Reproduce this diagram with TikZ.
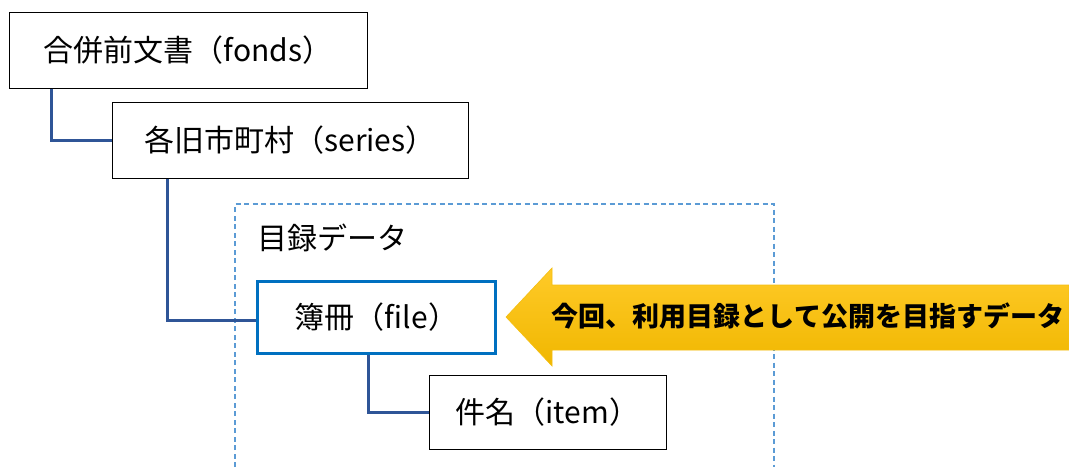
\documentclass[tikz,border=0pt]{standalone}
\usepackage{fontspec}
\setmainfont{Noto Sans CJK JP}
\usetikzlibrary{calc}
\definecolor{connblue}{HTML}{2F5597}
\definecolor{fileblue}{HTML}{0070C0}
\definecolor{dashblue}{HTML}{5B9BD5}
\definecolor{goldtop}{HTML}{FFCA28}
\definecolor{goldbot}{HTML}{F0B700}
\definecolor{goldline}{HTML}{F4BE12}
\tikzset{
  box/.style={draw=black, line width=1pt, fill=white, inner sep=0pt, font=\fontsize{30}{34}\selectfont},
  filebox/.style={box, draw=fileblue, line width=3pt},
  conn/.style={draw=connblue, line width=3pt},
  region/.style={draw=dashblue, line width=2pt, dash pattern=on 5pt off 3.5pt},
  goalarrow/.style={top color=goldtop, bottom color=goldbot, draw=goldline, line width=0.6pt},
}
\begin{document}
\begin{tikzpicture}[x=1pt,y=-1pt]
\useasboundingbox (0,0) rectangle (1069,467);
% dashed region (open at bottom)
\draw[region] (235,467) -- (235,204) -- (774,204) -- (774,467);
\node[anchor=west, inner sep=0pt, font=\fontsize{30}{34}\selectfont] (cat) at (257,238) {目録データ};
% boxes
\node[box, minimum width=358pt, minimum height=76pt] (fonds) at (188,50) {合併前文書（fonds）};
\node[box, minimum width=356pt, minimum height=76pt] (series) at (290,140) {各旧市町村（series）};
\node[filebox, minimum width=238pt, minimum height=72pt] (file) at (376.5,317.5) {簿冊（file）};
\node[box, minimum width=237pt, minimum height=74pt] (item) at (547.5,412) {件名（item）};
% connectors
\draw[conn] ([xshift=43pt]fonds.south west) |- (series.west);
\draw[conn] ([xshift=56pt]series.south west) |- ([yshift=-2.5pt]file.west);
\draw[conn] ([xshift=112pt]file.south west) |- (item.west);
% goal arrow
\path[goalarrow] (506,317) -- (552,268) -- (552,285) -- (1069,285) -- (1069,350) -- (552,350) -- (552,366) -- cycle;
\node[font=\fontsize{27}{30}\selectfont\bfseries, inner sep=0pt] (goal) at (808,316) {今回、利用目録として公開を目指すデータ};
\end{tikzpicture}
\end{document}
